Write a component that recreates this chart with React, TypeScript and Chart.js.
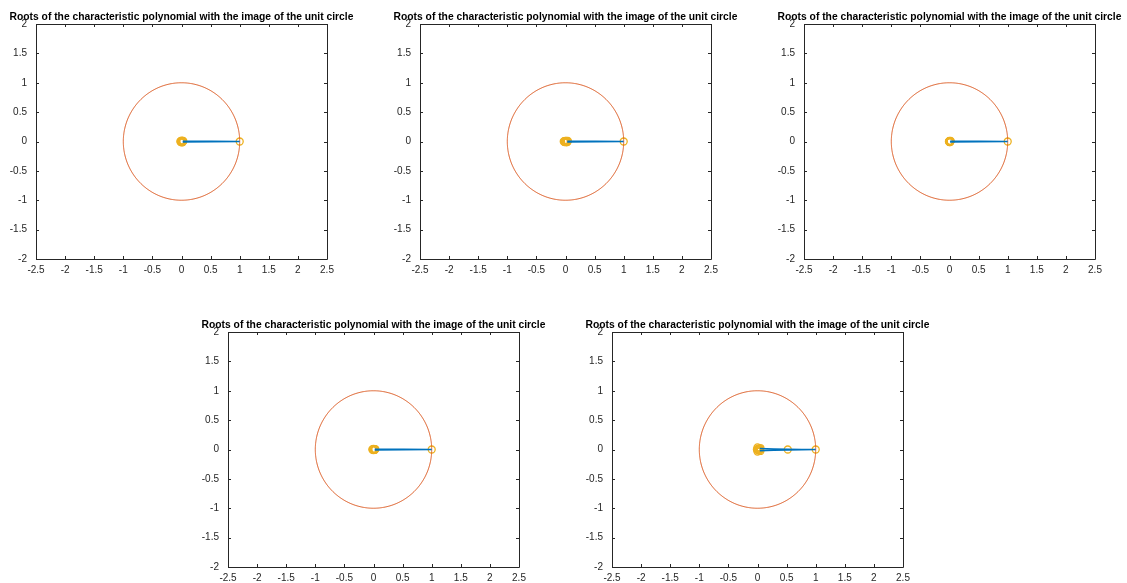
import React, { useEffect, useRef } from "react";
import { Chart, registerables } from "chart.js";

Chart.register(...registerables);

const TITLE = "Roots of the characteristic polynomial with the image of the unit circle";
const X_MIN = -2.5;
const X_MAX = 2.5;
const Y_MIN = -2;
const Y_MAX = 2;
const TICK_STEP = 0.5;
const CIRCLE_STEPS = 240;

const roots1: [number, number][] = [[1, 0], [0.03, 0.01], [0.02, -0.01], [0.0, 0.015], [-0.02, 0.0], [0.0, -0.015], [0.01, 0.0], [0.025, 0.0], [-0.01, 0.008], [-0.01, -0.008], [0.015, 0.012], [0.015, -0.012], [0.0, 0.0], [0.005, 0.004], [0.005, -0.004], [-0.005, 0.0], [0.02, 0.005], [0.02, -0.005]];
const roots2: [number, number][] = [[1, 0], [0.04, 0.01], [0.03, -0.01], [0.0, 0.012], [-0.03, 0.0], [0.0, -0.012], [0.02, 0.0], [0.035, 0.0], [-0.015, 0.008], [-0.015, -0.008], [0.015, 0.01], [0.015, -0.01], [0.0, 0.0], [0.005, 0.004], [0.005, -0.004], [-0.02, 0.0], [0.025, 0.005], [0.025, -0.005], [0.01, 0.0]];
const roots3: [number, number][] = [[1, 0], [0.02, 0.01], [0.01, -0.01], [0.0, 0.01], [-0.01, 0.0], [0.0, -0.01], [0.01, 0.0], [0.015, 0.0], [-0.005, 0.006], [-0.005, -0.006], [0.0, 0.0], [0.005, 0.003], [0.005, -0.003], [0.012, 0.006], [0.012, -0.006]];
const roots4: [number, number][] = [[1, 0], [0.03, 0.008], [0.02, -0.008], [0.0, 0.01], [-0.02, 0.0], [0.0, -0.01], [0.01, 0.0], [0.025, 0.0], [-0.01, 0.006], [-0.01, -0.006], [0.0, 0.0], [0.005, 0.003], [0.005, -0.003], [0.018, 0.004], [0.018, -0.004], [-0.005, 0.0]];
const roots5: [number, number][] = [[1, 0], [0.52, 0.0], [0.05, 0.025], [0.05, -0.025], [0.0, 0.035], [0.0, -0.035], [-0.01, 0.0], [0.03, 0.0], [0.04, 0.01], [0.04, -0.01], [0.01, 0.015], [0.01, -0.015], [0.02, 0.0], [0.025, 0.008], [0.025, -0.008], [0.005, 0.0]];

// blue line path per subplot
const path1: [number, number][] = [[0.02, 0.005], [1, 0], [0.02, -0.008]];
const path2: [number, number][] = [[0.03, 0.005], [1, 0], [0.03, -0.008]];
const path3: [number, number][] = [[0.01, 0.005], [1, 0], [0.01, -0.008]];
const path4: [number, number][] = [[0.02, 0.005], [1, 0], [0.02, -0.008]];
const path5: [number, number][] = [[0.04, 0.015], [0.52, 0.004], [1, 0], [0.52, -0.008], [0.04, -0.02]];

const ROOTS = [roots1, roots2, roots3, roots4, roots5];
const PATHS = [path1, path2, path3, path4, path5];
// plot box left/top in page pixels
const BOX_LEFT = [36, 420, 804, 228, 612];
const BOX_TOP = [24, 24, 24, 332, 332];
const BOX_W = 291;
const BOX_H = 235;
const AXIS_W = 37;
const EXTRA_X = 40;
const PAD_TOP = 24;
const AXIS_H = 22;
const PAD_RIGHT = 50;

const BLUE = "#0072BD";
const ORANGE = "#D95319";
const YELLOW = "#EDB120";
const AXIS = "#262626";
const FONT = "Arial, 'Liberation Sans', Helvetica, sans-serif";

const axesPlugin = {
  id: "matlabAxes",
  afterDraw(chart: any) {
    const { ctx, chartArea } = chart;
    const { left, top, right, bottom } = chartArea;
    ctx.save();
    ctx.strokeStyle = AXIS;
    ctx.lineWidth = 1;
    ctx.beginPath();
    ctx.rect(Math.round(left) + 0.5, Math.round(top) + 0.5, Math.round(right - left), Math.round(bottom - top));
    ctx.stroke();
    const xs = chart.scales.x;
    const ys = chart.scales.y;
    const tl = 3;
    ctx.beginPath();
    xs.ticks.forEach((t: any) => {
      const px = Math.round(xs.getPixelForValue(t.value)) + 0.5;
      ctx.moveTo(px, bottom);
      ctx.lineTo(px, bottom - tl);
      ctx.moveTo(px, top);
      ctx.lineTo(px, top + tl);
    });
    ys.ticks.forEach((t: any) => {
      const py = Math.round(ys.getPixelForValue(t.value)) + 0.5;
      ctx.moveTo(left, py);
      ctx.lineTo(left + tl, py);
      ctx.moveTo(right, py);
      ctx.lineTo(right - tl, py);
    });
    ctx.stroke();
    ctx.fillStyle = "#000";
    ctx.font = `bold 10.3px ${FONT}`;
    ctx.textAlign = "center";
    ctx.textBaseline = "alphabetic";
    ctx.fillText(TITLE, (left + right) / 2, top - 4);
    ctx.restore();
  },
};

const fmt = (v: any) => `${Number(v)}`;

function Subplot({ index }: { index: number }) {
  const ref = useRef<HTMLCanvasElement | null>(null);
  useEffect(() => {
    if (!ref.current) return;
    const circle = [] as { x: number; y: number }[];
    for (let i = 0; i <= CIRCLE_STEPS; i++) {
      const a = (2 * Math.PI * i) / CIRCLE_STEPS;
      circle.push({ x: Math.cos(a), y: Math.sin(a) });
    }
    const chart = new Chart(ref.current, {
      type: "scatter",
      data: {
        datasets: [
          {
            data: PATHS[index].map(([x, y]) => ({ x, y })),
            showLine: true,
            borderColor: BLUE,
            borderWidth: 1.5,
            pointRadius: 0,
            tension: 0.0001,
          },
          {
            data: circle,
            showLine: true,
            borderColor: ORANGE,
            borderWidth: 1,
            pointRadius: 0,
            tension: 0.0001,
          },
          {
            data: ROOTS[index].map(([x, y]) => ({ x, y })),
            showLine: false,
            borderColor: YELLOW,
            backgroundColor: "rgba(0,0,0,0)",
            borderWidth: 1.3,
            pointRadius: 3.5,
          },
        ],
      },
      options: {
        animation: false,
        responsive: false,
        devicePixelRatio: 1,
        layout: { padding: { left: EXTRA_X, top: PAD_TOP, right: PAD_RIGHT, bottom: 0 } },
        plugins: { legend: { display: false }, tooltip: { enabled: false }, title: { display: false } },
        scales: {
          x: {
            type: "linear",
            min: X_MIN,
            max: X_MAX,
            grid: { display: false, drawTicks: false },
            border: { display: false },
            ticks: { stepSize: TICK_STEP, autoSkip: false, maxRotation: 0, color: AXIS, font: { family: FONT, size: 10 }, padding: 5, callback: fmt },
            afterFit(s: any) { s.height = AXIS_H; },
          },
          y: {
            type: "linear",
            min: Y_MIN,
            max: Y_MAX,
            grid: { display: false, drawTicks: false },
            border: { display: false },
            ticks: { stepSize: TICK_STEP, autoSkip: false, color: AXIS, font: { family: FONT, size: 10 }, padding: 9, callback: fmt },
            afterFit(s: any) { s.width = AXIS_W; },
          },
        },
      } as any,
      plugins: [axesPlugin],
    });
    return () => chart.destroy();
  }, [index]);
  const w = EXTRA_X + AXIS_W + BOX_W + PAD_RIGHT;
  const h = PAD_TOP + BOX_H + AXIS_H;
  return (
    <canvas
      ref={ref}
      width={w}
      height={h}
      style={{ position: "absolute", left: BOX_LEFT[index] - AXIS_W - EXTRA_X, top: BOX_TOP[index] - PAD_TOP, width: w, height: h }}
    />
  );
}

export default function App() {
  return (
    <div style={{ position: "fixed", left: 0, top: 0, width: 1127, height: 583, background: "#fff", overflow: "hidden" }}>
      {[0, 1, 2, 3, 4].map((i) => (
        <Subplot key={i} index={i} />
      ))}
    </div>
  );
}
